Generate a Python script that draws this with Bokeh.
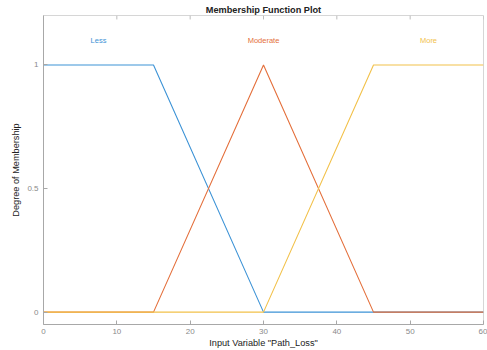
from bokeh.plotting import figure
from bokeh.models import Range1d, FixedTicker, Label
from bokeh.embed import file_html
from bokeh.resources import INLINE

# data
mf_names = ["Less", "Moderate", "More"]
less_x = [0, 15, 30, 60]
less_y = [1, 1, 0, 0]
moderate_x = [0, 15, 30, 45, 60]
moderate_y = [0, 0, 1, 0, 0]
more_x = [0, 30, 45, 60]
more_y = [0, 0, 1, 1]
label_x = [7.5, 30, 52.5]
label_y = [1.1, 1.1, 1.1]
x_ticks = [0, 10, 20, 30, 40, 50, 60]
y_ticks = [0, 0.5, 1]
y_tick_labels = {0: "0", 0.5: "0.5", 1: "1"}
y_min, y_max = -0.05, 1.2

colors = ["#3d93d6", "#e46f3b", "#f2c14a"]
FONT = "Liberation Sans"

p = figure(width=487, height=350, output_backend="svg", toolbar_location=None,
           x_range=Range1d(0, 60), y_range=Range1d(y_min, y_max),
           title="Membership Function Plot")
p.min_border_left = 43
p.min_border_right = 4
p.min_border_top = 15
p.min_border_bottom = 26
p.title.align = "center"
p.title.text_font = FONT
p.title.text_font_size = "9.2px"
p.title.text_font_style = "bold"
p.title.text_color = "#222222"
p.title.standoff = 2
p.title.offset = 0
p.xgrid.visible = False
p.ygrid.visible = False
p.outline_line_color = "#d6d6d6"
p.outline_line_width = 1
p.background_fill_color = "white"
p.border_fill_color = "white"

for ax in (p.xaxis[0], p.yaxis[0]):
    ax.axis_line_color = "#a8a8a8"
    ax.major_tick_line_color = "#a8a8a8"
    ax.major_tick_in = 4
    ax.major_tick_out = 0
    ax.minor_tick_line_color = None
    ax.major_label_text_font = FONT
    ax.major_label_text_font_size = "8px"
    ax.major_label_text_color = "#8a8a8a"
    ax.axis_label_text_font = FONT
    ax.axis_label_text_font_size = "9.2px"
    ax.axis_label_text_font_style = "normal"
    ax.axis_label_text_color = "#222222"

p.xaxis[0].ticker = FixedTicker(ticks=x_ticks)
p.xaxis[0].axis_label = 'Input Variable "Path_Loss"'
p.xaxis[0].major_label_standoff = 4
p.xaxis[0].axis_label_standoff = 1
p.yaxis[0].ticker = FixedTicker(ticks=y_ticks)
p.yaxis[0].major_label_overrides = y_tick_labels
p.yaxis[0].axis_label = "Degree of Membership"
p.yaxis[0].major_label_standoff = 5
p.yaxis[0].axis_label_standoff = 3

# mirrored tick marks along the top edge
p.segment(x0=x_ticks, x1=x_ticks, y0=[y_max] * len(x_ticks),
          y1=[y_max - 0.016] * len(x_ticks), line_color="#bdbdbd", line_width=1)

series = [(less_x, less_y), (moderate_x, moderate_y), (more_x, more_y)]
for (xs, ys), c in zip(series, colors):
    p.line(xs, ys, line_color=c, line_width=1.1)

for name, lx, ly, c in zip(mf_names, label_x, label_y, colors):
    p.add_layout(Label(x=lx, y=ly, text=name, text_align="center", text_baseline="middle",
                       text_font=FONT, text_font_size="7.5px", text_color=c))

open("out.html", "w").write(file_html(p, INLINE))
